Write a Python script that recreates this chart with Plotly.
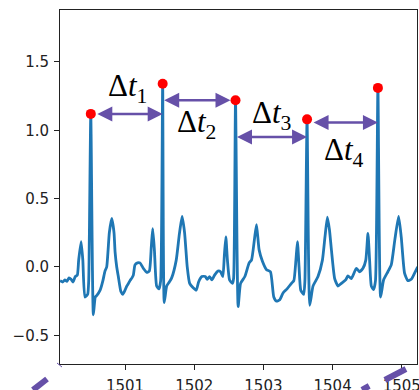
import plotly.graph_objects as go

# ECG signal (time in s, amplitude)
t = [1500.06, 1500.10, 1500.13, 1500.16, 1500.19, 1500.22, 1500.25, 1500.28, 1500.31, 1500.33,
     1500.365, 1500.39, 1500.42, 1500.46, 1500.475, 1500.505, 1500.542, 1500.57, 1500.59, 1500.64,
     1500.68, 1500.71, 1500.735, 1500.773, 1500.808, 1500.841, 1500.856, 1500.88, 1500.903, 1500.94,
     1500.967, 1501.00, 1501.025, 1501.05, 1501.072, 1501.10, 1501.12, 1501.144, 1501.18, 1501.216,
     1501.264, 1501.313, 1501.351, 1501.38, 1501.40, 1501.425, 1501.457, 1501.491, 1501.515, 1501.544,
     1501.567, 1501.602, 1501.64, 1501.674, 1501.74, 1501.785, 1501.825, 1501.861, 1501.899, 1501.934,
     1501.981, 1502.029, 1502.063, 1502.111, 1502.159, 1502.188, 1502.222, 1502.255, 1502.294, 1502.342,
     1502.381, 1502.414, 1502.435, 1502.457, 1502.48, 1502.511, 1502.554, 1502.57, 1502.597, 1502.635,
     1502.67, 1502.732, 1502.794, 1502.828, 1502.87, 1502.90, 1502.938, 1502.987, 1503.045, 1503.102,
     1503.15, 1503.189, 1503.237, 1503.284, 1503.342, 1503.405, 1503.44, 1503.47, 1503.492, 1503.515,
     1503.54, 1503.583, 1503.60, 1503.631, 1503.67, 1503.717, 1503.789, 1503.853, 1503.89, 1503.925,
     1503.955, 1503.983, 1504.03, 1504.078, 1504.127, 1504.189, 1504.222, 1504.271, 1504.343, 1504.391,
     1504.439, 1504.48, 1504.511, 1504.535, 1504.56, 1504.593, 1504.62, 1504.655, 1504.694, 1504.737,
     1504.799, 1504.848, 1504.90, 1504.954, 1504.992, 1505.04, 1505.088, 1505.137, 1505.185, 1505.23]
v = [-0.10, -0.11, -0.095, -0.105, -0.08, -0.09, -0.11, -0.07, -0.06, 0.05,
     0.185, 0.05, -0.22, -0.20, -0.10, 1.12, -0.35, -0.22, -0.21, -0.17,
     -0.10, -0.03, 0.0, 0.25, 0.355, 0.25, 0.11, 0.0, -0.07, -0.18,
     -0.20, -0.17, -0.14, -0.12, -0.10, -0.08, -0.06, 0.015, 0.03, 0.03,
     -0.01, -0.04, -0.03, 0.15, 0.28, 0.12, -0.14, -0.16, -0.10, 1.34,
     -0.26, -0.14, -0.11, -0.08, 0.05, 0.24, 0.37, 0.25, 0.0, -0.12,
     -0.15, -0.17, -0.11, -0.07, -0.07, -0.09, -0.07, -0.095, -0.06, -0.03,
     -0.035, -0.07, 0.08, 0.22, 0.05, -0.095, -0.12, -0.08, 1.22, -0.29,
     -0.12, -0.07, 0.03, 0.05, 0.20, 0.31, 0.125, 0.04, -0.02, -0.035,
     -0.22, -0.25, -0.24, -0.19, -0.16, -0.12, -0.10, 0.05, 0.185, 0.0,
     -0.17, -0.20, -0.10, 1.08, -0.28, -0.14, -0.07, 0.05, 0.22, 0.365,
     0.27, 0.125, -0.085, -0.14, -0.12, -0.095, -0.065, -0.085, -0.01, -0.035,
     -0.01, 0.05, 0.245, 0.05, -0.14, -0.165, -0.10, 1.31, -0.22, -0.095,
     -0.035, 0.015, 0.20, 0.37, 0.22, -0.045, -0.10, -0.09, -0.045, 0.0]

# R peaks
peak_t = [1500.505, 1501.544, 1502.597, 1503.631, 1504.655]
peak_v = [1.12, 1.34, 1.22, 1.08, 1.31]

# interval arrows: height of each arrow, label positions
arrow_y = [1.12, 1.22, 0.95, 1.056]
label_t = [1501.04, 1502.04, 1503.11, 1504.17]
label_v = [1.31, 1.047, 1.11, 0.84]
labels = ["Δ<i>t</i><sub>1</sub>", "Δ<i>t</i><sub>2</sub>", "Δ<i>t</i><sub>3</sub>", "Δ<i>t</i><sub>4</sub>"]
start_gap = [5, 0, 0, 5]
end_gap = [0, 5, 0, 0]

x_ticks = [1501, 1502, 1503, 1504, 1505]
y_ticks = [-0.5, 0.0, 0.5, 1.0, 1.5]
y_tick_text = ["\u22120.5", "0.0", "0.5", "1.0", "1.5"]

PURPLE = "#6650a8"

fig = go.Figure()
fig.add_trace(go.Scatter(x=t, y=v, mode="lines",
                         line=dict(color="#1f77b4", width=2.8, shape="spline", smoothing=0.5),
                         showlegend=False, hoverinfo="skip"))
fig.add_trace(go.Scatter(x=peak_t, y=peak_v, mode="markers",
                         marker=dict(color="#ff0000", size=10), showlegend=False,
                         cliponaxis=False))

annotations = []
for i in range(4):
    annotations.append(dict(
        x=peak_t[i + 1], y=arrow_y[i], ax=peak_t[i], ay=arrow_y[i],
        xref="x", yref="y", axref="x", ayref="y", text="", showarrow=True,
        arrowside="end+start", arrowhead=2, startarrowhead=2,
        arrowsize=1.2, startarrowsize=1.2, arrowwidth=2.5, arrowcolor=PURPLE,
        standoff=end_gap[i], startstandoff=start_gap[i]))
    annotations.append(dict(
        x=label_t[i], y=label_v[i], xref="x", yref="y", text=labels[i], showarrow=False,
        font=dict(family="Liberation Serif", size=31, color="black")))

shapes = [
    dict(type="line", xref="paper", yref="paper", x0=-0.0756, y0=-0.0734, x1=-0.0364, y1=-0.0424,
         line=dict(color=PURPLE, width=6)),
    dict(type="line", xref="paper", yref="paper", x0=-0.0084, y0=0.0028, x1=0.0056, y1=-0.0085,
         line=dict(color=PURPLE, width=1)),
    dict(type="line", xref="paper", yref="paper", x0=0.910, y0=-0.0452, x1=0.969, y1=-0.0141,
         line=dict(color=PURPLE, width=6)),
    dict(type="line", xref="paper", yref="paper", x0=0.846, y0=-0.0734, x1=0.866, y1=-0.0621,
         line=dict(color=PURPLE, width=6)),
]

axis_common = dict(showline=True, linecolor="#222", linewidth=1, mirror=True,
                   ticks="outside", ticklen=5, tickcolor="#222", showgrid=False,
                   zeroline=False, automargin=False, ticklabeloverflow="allow",
                   tickfont=dict(family="DejaVu Sans", size=15, color="#222"))

fig.update_layout(
    width=419, height=390, margin=dict(l=60, r=2, t=10, b=26),
    paper_bgcolor="white", plot_bgcolor="white",
    xaxis=dict(range=[1500.06, 1505.22], tickvals=x_ticks,
               ticktext=[str(x) for x in x_ticks], ticklabelstandoff=3, **axis_common),
    yaxis=dict(range=[-0.71, 1.88], tickvals=y_ticks, ticktext=y_tick_text,
               ticklabelstandoff=2, **axis_common),
    annotations=annotations, shapes=shapes,
)

fig.write_html("out.html")
